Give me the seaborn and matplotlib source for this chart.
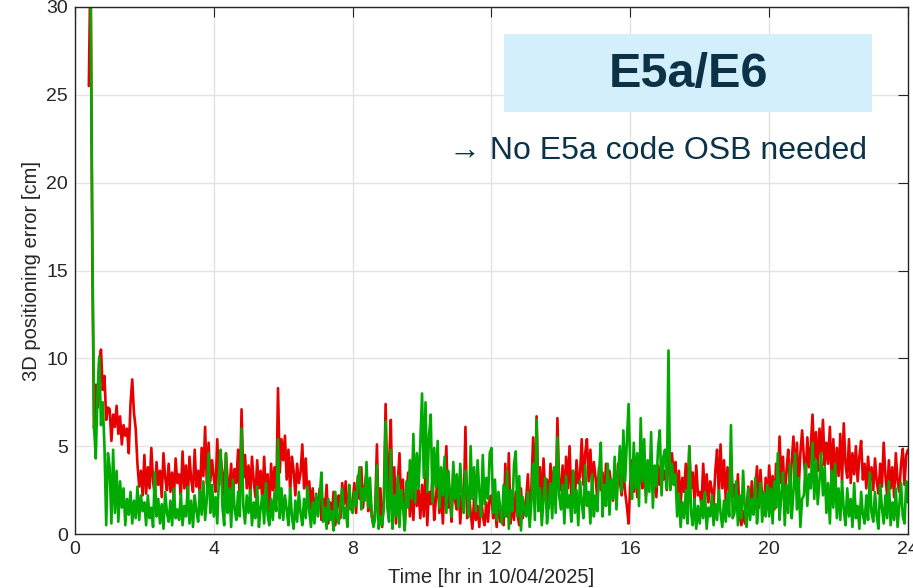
import numpy as np
import pandas as pd
import seaborn as sns
import matplotlib.pyplot as plt
import matplotlib.patches as mpatches

# 3D positioning error [cm], one value every 0.05 hr starting at 0.40 hr
# (one row = one hour)
err_red = [
    25.5, 33, 15.5, 6.0, 8.5, 7.2, 9.8, 10.5, 8.2, 9.0, 6.5, 7.2,
    7.1, 5.3, 6.8, 6.1, 7.3, 5.7, 6.7, 5.1, 6.2, 5.6, 6.0, 4.6, 7.4, 8.8, 6.9, 6.0, 4.0, 2.7, 3.6, 2.2,
    4.5, 2.3, 3.8, 2.6, 4.9, 3.0, 2.2, 4.1, 2.8, 3.6, 2.1, 4.6, 3.2, 2.5, 4.0, 2.4, 3.5, 2.0, 4.3, 2.9,
    3.4, 2.2, 4.7, 2.6, 3.9, 2.0, 4.4, 3.1, 2.4, 4.8, 2.7, 3.6, 2.1, 4.9, 3.3, 6.1, 2.8, 5.2, 3.0, 4.2,
    3.2, 2.4, 5.4, 2.8, 4.3, 3.5, 2.2, 4.6, 3.0, 2.5, 4.0, 2.1, 3.7, 2.9, 4.8, 2.4, 7.1, 3.2, 4.5, 2.6,
    3.9, 2.2, 4.4, 3.0, 2.1, 4.2, 2.6, 3.6, 1.8, 4.4, 2.3, 3.4, 1.2, 4.0, 2.5, 3.8, 2.0, 8.3, 3.5, 5.4,
    4.2, 5.6, 3.1, 4.8, 2.4, 4.4, 3.6, 2.2, 4.0, 2.9, 3.5, 5.1, 2.6, 4.3, 1.9, 3.0, 1.4, 2.6, 1.0, 2.1,
    1.5, 2.6, 0.8, 2.0, 1.2, 2.8, 0.6, 1.8, 1.0, 2.4, 0.5, 1.6, 2.2, 0.9, 2.9, 1.7, 3.0, 1.1, 2.3, 1.4,
    1.8, 2.9, 1.2, 3.3, 2.0, 3.8, 1.5, 2.7, 3.5, 1.3, 2.4, 1.0, 0.5, 1.4, 5.1, 0.8, 2.6, 0.4, 1.9, 7.4,
    2.4, 4.0, 6.5, 1.2, 3.8, 0.6, 2.9, 4.6, 1.5, 3.1, 0.4, 2.2, 3.5, 1.0, 2.7, 0.8, 3.3, 1.6, 2.5, 0.9,
    2.8, 1.0, 3.6, 0.5, 2.4, 1.7, 3.2, 0.8, 2.0, 3.4, 1.2, 2.6, 0.6, 3.0, 5.0, 1.5, 2.2, 0.7, 3.6, 1.9,
    1.4, 3.0, 0.6, 2.2, 1.5, 6.1, 0.9, 2.5, 1.2, 0.3, 2.0, 0.8, 1.6, 0.4, 2.3, 1.0, 0.5, 1.8, 0.7, 2.1,
    2.2, 0.9, 1.6, 0.4, 2.2, 0.7, 1.3, 0.5, 4.0, 1.0, 4.6, 0.6, 1.8, 0.8, 2.4, 1.1, 0.5, 2.6, 0.9, 1.5,
    2.0, 3.4, 0.9, 2.6, 5.5, 1.7, 6.7, 2.4, 3.8, 1.6, 4.3, 2.2, 3.1, 1.5, 4.0, 2.7, 3.6, 1.9, 6.6, 2.8,
    2.5, 3.9, 1.8, 4.4, 2.6, 5.0, 2.0, 3.6, 1.7, 4.2, 2.9, 3.3, 5.4, 2.8, 4.6, 5.4, 3.0, 4.8, 2.7, 4.1,
    3.2, 2.0, 3.8, 2.5, 3.5, 1.9, 4.0, 2.3, 3.6, 2.8, 1.9, 3.4, 2.6, 4.0, 3.0, 2.2, 3.7, 2.4, 1.6, 0.6,
    3.0, 4.2, 2.4, 3.6, 2.1, 4.4, 3.2, 2.6, 4.0, 2.2, 3.8, 2.9, 4.3, 2.5, 3.4, 2.1, 3.9, 2.8, 4.2, 3.1,
    3.6, 2.5, 4.4, 3.4, 4.6, 3.3, 4.1, 2.0, 3.6, 1.7, 3.2, 2.4, 4.0, 1.9, 5.0, 2.6, 3.5, 1.8, 3.9, 2.2,
    2.4, 1.6, 4.0, 2.0, 3.4, 1.8, 3.0, 2.5, 1.7, 3.6, 4.8, 2.2, 5.1, 2.6, 4.2, 1.9, 3.8, 2.4, 4.5, 2.1,
    2.8, 1.6, 3.4, 1.0, 0.5, 1.3, 0.6, 1.4, 2.7, 1.2, 3.0, 1.8, 2.4, 3.85, 1.5, 3.65, 2.0, 1.1, 3.2, 1.7,
    3.9, 2.1, 3.3, 1.4, 4.0, 2.6, 5.55, 2.9, 4.4, 1.8, 3.6, 4.8, 2.4, 4.1, 5.55, 3.0, 5.2, 2.6, 4.6, 5.9,
    4.4, 3.0, 5.5, 3.8, 5.0, 6.8, 4.2, 5.8, 3.6, 6.0, 4.5, 6.5, 3.9, 5.2, 4.0, 6.1, 3.2, 5.4, 2.8, 4.9,
    3.3, 5.7, 2.9, 6.3, 4.0, 3.2, 5.4, 2.9, 4.6, 3.4, 5.0, 3.0, 4.4, 5.3, 3.1, 4.0, 2.6, 4.4, 3.0, 3.8,
    2.5, 4.3, 3.0, 2.3, 4.0, 2.7, 5.2, 3.3, 2.2, 4.2, 2.6, 3.8, 2.1, 4.6, 3.0, 2.4, 4.0, 4.85, 2.8, 4.5,
    4.8,
]
err_green = [
    30.5, 31, 17.2, 6.1, 4.3, 8.0, 10.1, 6.2, 7.5, 5.0, 0.5, 4.6,
    3.8, 0.6, 4.8, 1.2, 3.6, 0.7, 3.0, 1.5, 2.6, 0.5, 2.0, 1.1, 2.4, 0.6, 1.9, 0.9, 2.7, 0.8, 2.2, 1.3,
    1.8, 0.5, 2.2, 0.9, 1.5, 0.4, 3.5, 1.0, 2.0, 0.6, 1.7, 0.3, 2.4, 1.2, 0.7, 1.9, 0.5, 2.6, 0.9, 1.4,
    0.8, 2.3, 0.5, 1.6, 1.0, 2.7, 0.6, 1.9, 0.4, 2.2, 1.3, 0.7, 2.5, 1.1, 3.0, 0.8, 2.0, 4.6, 1.2, 2.8,
    1.0, 2.1, 0.6, 3.4, 4.8, 1.5, 0.5, 4.6, 1.2, 2.6, 0.4, 3.1, 1.4, 0.8, 2.4, 1.0, 6.0, 1.6, 0.6, 2.2,
    1.2, 2.5, 0.5, 1.8, 0.9, 2.7, 0.4, 1.5, 2.2, 0.6, 2.9, 1.1, 0.5, 2.0, 0.8, 2.4, 1.3, 5.4, 0.9, 2.6,
    0.8, 2.2, 1.4, 0.5, 2.6, 1.0, 0.3, 1.9, 0.7, 2.4, 1.2, 0.5, 2.0, 0.9, 2.7, 1.3, 0.4, 1.8, 0.6, 2.3,
    1.0, 2.1, 3.5, 0.7, 1.5, 0.3, 2.0, 0.8, 1.3, 0.2, 2.4, 1.0, 0.6, 1.7, 2.6, 0.9, 1.5, 0.4, 2.8, 1.6,
    1.2, 2.4, 1.6, 3.0, 3.8, 1.4, 2.6, 1.9, 4.1, 1.5, 3.2, 1.1, 0.4, 0.9, 3.9, 0.3, 1.0, 0.5, 1.6, 6.4,
    1.5, 0.7, 4.8, 0.3, 2.2, 1.0, 3.3, 0.4, 2.5, 1.6, 0.2, 3.0, 1.5, 4.2, 2.0, 5.7, 1.8, 4.6, 2.6, 5.2,
    8.0, 3.2, 7.5, 2.4, 5.6, 6.8, 1.8, 4.9, 2.7, 5.3, 1.5, 3.8, 2.2, 4.4, 1.2, 3.6, 2.5, 1.0, 4.1, 2.0,
    3.4, 1.5, 4.0, 2.2, 1.2, 3.6, 2.6, 1.0, 5.0, 2.0, 3.8, 1.3, 4.2, 2.4, 1.0, 4.5, 1.7, 3.2, 2.0, 4.6,
    4.9, 1.2, 3.1, 0.8, 2.4, 1.5, 0.6, 2.8, 1.0, 3.6, 0.3, 2.5, 1.3, 4.0, 4.7, 1.0, 3.3, 0.2, 2.1, 1.4,
    1.0, 2.4, 0.4, 1.8, 4.0, 0.8, 6.5, 1.3, 2.6, 0.5, 2.0, 3.2, 0.6, 1.7, 2.9, 0.9, 3.8, 1.2, 5.5, 2.2,
    1.4, 2.8, 0.6, 3.3, 1.5, 2.2, 0.7, 3.6, 1.2, 2.5, 0.5, 3.0, 1.8, 0.9, 3.9, 1.6, 2.4, 0.6, 3.4, 1.0,
    2.2, 1.3, 3.5, 5.2, 1.0, 2.8, 1.6, 4.0, 1.1, 3.1, 2.0, 4.4, 1.4, 3.4, 5.0, 2.4, 5.9, 3.0, 5.2, 7.4,
    3.6, 2.0, 5.2, 2.6, 4.6, 1.6, 6.6, 3.0, 5.4, 1.8, 4.2, 2.4, 5.8, 1.5, 3.9, 2.7, 4.9, 5.9, 2.2, 4.4,
    4.8, 2.6, 10.45, 2.5, 4.0, 2.8, 3.4, 1.0, 2.3, 0.4, 1.8, 0.9, 2.5, 0.6, 5.0, 1.2, 0.5, 2.0, 0.3, 1.6,
    0.6, 1.9, 0.9, 2.4, 0.3, 1.5, 1.0, 2.2, 0.5, 1.7, 0.8, 2.5, 1.2, 0.4, 1.9, 0.7, 2.3, 1.0, 6.2, 0.9,
    1.2, 3.0, 0.5, 2.2, 0.9, 3.6, 1.4, 0.4, 2.6, 0.8, 2.0, 1.1, 3.2, 0.6, 1.8, 2.9, 0.7, 2.4, 1.0, 2.8,
    1.0, 2.6, 0.6, 3.0, 1.5, 4.6, 0.8, 2.2, 3.5, 0.5, 2.8, 1.2, 4.0, 0.9, 2.4, 4.6, 1.4, 3.2, 0.4, 2.0,
    2.2, 4.0, 1.6, 3.4, 2.6, 5.2, 2.0, 4.2, 1.7, 3.0, 4.6, 2.2, 3.8, 1.2, 2.9, 0.6, 3.6, 1.5, 4.0, 0.9,
    2.6, 0.8, 3.0, 1.4, 0.5, 2.6, 1.0, 2.0, 0.4, 2.9, 0.9, 1.6, 0.3, 2.4, 1.1, 0.6, 2.2, 0.8, 3.5, 1.2,
    0.7, 2.4, 1.0, 0.3, 2.8, 1.5, 0.6, 2.2, 0.9, 3.0, 0.5, 1.8, 0.8, 2.6, 0.4, 1.6, 2.9, 1.0, 0.6, 3.0,
    1.8,
]
assert len(err_red) == len(err_green)

x_ticks = [0, 4, 8, 12, 16, 20, 24]
y_ticks = [0, 5, 10, 15, 20, 25, 30]

# sampling grid of the solution (hours)
hours = 0.40 + 0.05 * np.arange(len(err_red))
df = pd.DataFrame({'hour': hours, 'red': err_red, 'green': err_green})

sns.set_theme(style="whitegrid")
plt.rcParams['font.family'] = ['Liberation Sans Narrow', 'Liberation Sans', 'DejaVu Sans']

fig = plt.figure(figsize=(9.13, 5.88), dpi=100)
ax = fig.add_axes([0.0821, 0.0918, 0.9124, 0.8963])

sns.lineplot(data=df, x='hour', y='red', color='#e60000', lw=1.9, ax=ax,
             estimator=None, sort=False)
sns.lineplot(data=df, x='hour', y='green', color='#00aa00', lw=1.9, ax=ax,
             estimator=None, sort=False)

ax.set_xlim(0, 24)
ax.set_ylim(0, 30)
ax.set_xticks(x_ticks)
ax.set_yticks(y_ticks)
ax.grid(True, color='#e3e3e3', lw=1.0)
for s in ax.spines.values():
    s.set_color('#262626')
    s.set_linewidth(1.0)
ax.tick_params(direction='in', length=7, width=0.8, color='#262626',
               top=True, right=True, labelsize=14, labelcolor='#262626', pad=5)
ax.set_xlabel('Time [hr in 10/04/2025]', fontsize=14.5, color='#262626', labelpad=7)
ax.set_ylabel('3D positioning error [cm]', fontsize=14.5, color='#262626', labelpad=4)

# title box + note
fig.patches.append(mpatches.Rectangle((0.552, 0.8095), 0.403, 0.1327,
                                      transform=fig.transFigure, facecolor='#d4effc',
                                      edgecolor='none', zorder=3))
fig.text(0.7536, 0.874, 'E5a/E6', fontsize=35, fontweight='bold', color='#0c3248',
         ha='center', va='center', family=['Liberation Sans', 'DejaVu Sans'], zorder=4)
fig.text(0.7207, 0.743, '\u2192 No E5a code OSB needed', fontsize=23, color='#0c3248',
         ha='center', va='center', family=['Liberation Sans', 'DejaVu Sans'], zorder=4)

fig.savefig('out.png', dpi=100)
